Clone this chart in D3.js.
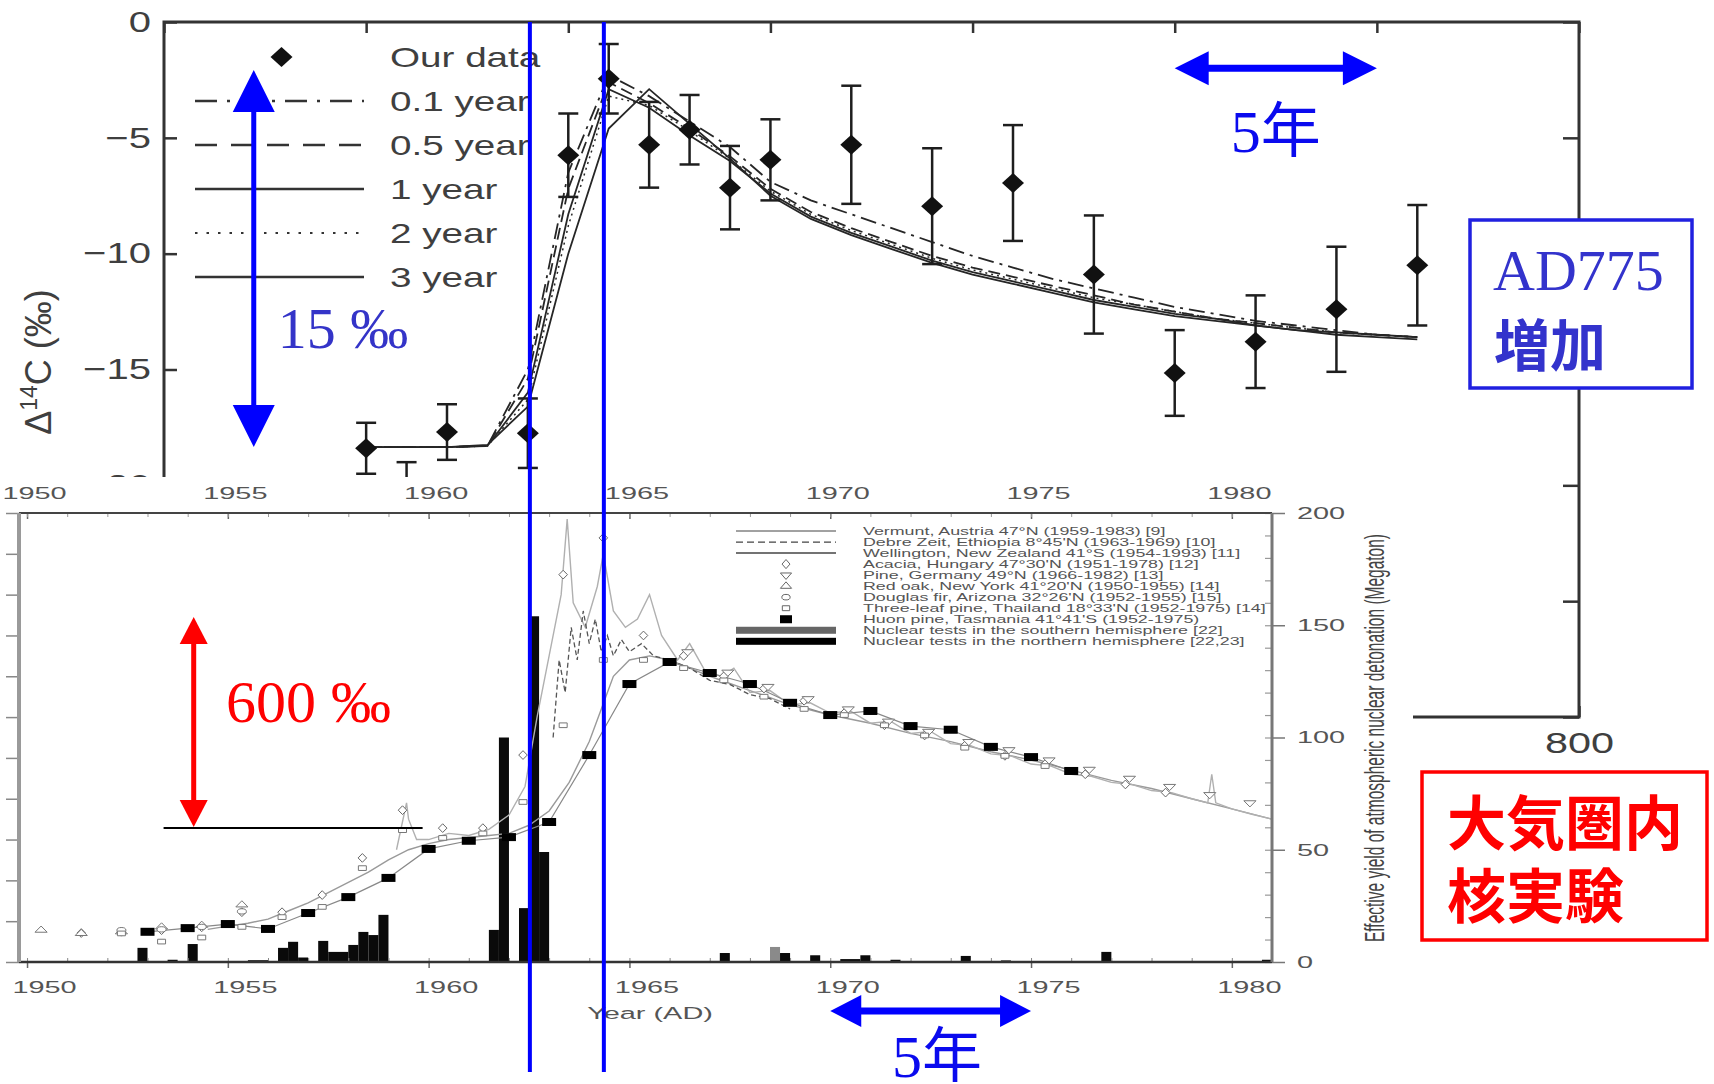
<!DOCTYPE html>
<html lang="ja">
<head>
<meta charset="UTF-8">
<title>AD775 and bomb 14C</title>
<script src="https://cdn.jsdelivr.net/npm/d3@7"></script>
<style>
  body { margin: 0; background: #fff; }
  svg { display: block; }
</style>
</head>
<body>
<div id="chart"></div>
<script>
// ---------------- top chart: AD775 tree rings ----------------
var ourYears  = [770, 771, 772, 774, 775, 776, 777, 778, 779, 780, 782, 784, 786, 788, 790, 792, 794, 796];
var ourValues = [-18.4, -20.5, -17.7, -17.75, -5.75, -2.45, -5.3, -4.65, -7.15, -5.95, -5.3, -7.95, -6.95, -10.9, -15.15, -13.8, -12.4, -10.5];
var ourErrors = [1.1, 1.5, 1.2, 1.5, 1.8, 1.5, 1.85, 1.5, 1.8, 1.75, 2.55, 2.5, 2.5, 2.55, 1.85, 2.0, 2.7, 2.6];

var modelYears = [770, 771, 772, 773, 774, 775, 776, 777, 778, 779, 780, 781, 782, 783, 784, 785, 786, 787, 788, 789, 790, 791, 792, 793, 794, 795, 796];
var model01 = [-18.35, -18.35, -18.35, -18.3, -15.0, -6.5, -2.3, -3.2, -4.3, -5.4, -6.9, -7.7, -8.3, -8.9, -9.5, -10.1, -10.6, -11.1, -11.5, -11.9, -12.3, -12.6, -12.9, -13.1, -13.3, -13.5, -13.6];
var model05 = [-18.35, -18.35, -18.35, -18.3, -15.4, -7.2, -2.6, -3.5, -4.6, -5.8, -7.2, -8.2, -8.9, -9.5, -10.1, -10.6, -11.0, -11.4, -11.8, -12.2, -12.5, -12.8, -13.0, -13.2, -13.4, -13.5, -13.6];
var model1  = [-18.35, -18.35, -18.35, -18.3, -16.0, -8.3, -2.9, -3.7, -4.9, -6.0, -7.4, -8.4, -9.1, -9.7, -10.3, -10.8, -11.2, -11.6, -12.0, -12.3, -12.6, -12.8, -13.1, -13.3, -13.4, -13.5, -13.6];
var model2  = [-18.35, -18.35, -18.35, -18.3, -16.3, -8.8, -3.2, -3.6, -4.7, -5.9, -7.3, -8.3, -9.0, -9.6, -10.2, -10.7, -11.1, -11.5, -11.9, -12.2, -12.5, -12.8, -13.0, -13.2, -13.4, -13.5, -13.6];
var model3  = [-18.35, -18.35, -18.35, -18.25, -16.6, -10.0, -4.6, -2.9, -4.4, -5.9, -7.5, -8.5, -9.2, -9.8, -10.4, -10.9, -11.3, -11.7, -12.1, -12.4, -12.7, -12.9, -13.1, -13.3, -13.5, -13.6, -13.7];
var modelLabels = ['0.1 year', '0.5 year', '1 year', '2 year', '3 year'];

var topXTicks = [765, 770, 775, 780, 785, 790, 795, 800];
var topYTicks = [0, -5, -10, -15, -20, -25, -30];

// ---------------- bottom chart: bomb 14C ----------------
var huonYears  = [1953, 1954, 1955, 1956, 1957, 1958, 1959, 1960, 1961, 1962, 1963, 1964, 1965, 1966, 1967, 1968, 1969, 1970, 1971, 1972, 1973, 1974, 1975, 1976];
var huonValues = [-26, -17, -7, -19, 20, 59, 106, 177, 197, 206, 243, 407, 581, 635, 608, 581, 535, 505, 515, 478, 469, 427, 402, 368];

var vermuntYears  = [1959.2, 1959.45, 1959.5, 1959.7, 1960.0, 1960.5, 1961.0, 1961.5, 1962.0, 1962.4, 1962.7, 1963.0, 1963.3, 1963.45, 1963.6, 1963.9, 1964.2, 1964.35, 1964.6, 1964.9, 1965.2, 1965.5, 1965.8, 1966.2, 1966.5, 1966.9, 1967.3, 1967.6, 1968.0, 1968.5, 1969.0, 1969.5, 1970.0, 1970.5, 1971.0, 1971.5, 1972.0, 1972.5, 1973.0, 1973.5, 1974.0, 1974.5, 1975.0, 1975.5, 1976.0, 1976.5, 1977.0, 1977.5, 1978.0, 1978.5, 1979.0, 1979.4, 1979.5, 1979.6, 1980.0, 1980.5, 1981.0];
var vermuntValues = [175, 290, 250, 200, 200, 215, 210, 225, 260, 330, 500, 650, 800, 985, 780, 720, 820, 900, 760, 720, 740, 800, 700, 640, 680, 610, 600, 620, 560, 565, 530, 535, 510, 515, 485, 490, 460, 465, 435, 430, 410, 405, 385, 380, 360, 355, 340, 335, 320, 315, 300, 290, 360, 290, 275, 262, 250];

var debreYears  = [1963.1, 1963.25, 1963.4, 1963.55, 1963.7, 1963.85, 1964.0, 1964.15, 1964.3, 1964.45, 1964.6, 1964.8, 1965.0, 1965.3, 1965.6, 1966.0, 1966.5, 1967.0, 1967.5, 1968.0, 1968.5, 1969.0];
var debreValues = [450, 640, 560, 720, 640, 760, 680, 740, 660, 700, 650, 690, 660, 680, 650, 640, 620, 590, 580, 555, 545, 520];

var wellingtonYears  = [1954.5, 1955, 1955.5, 1956, 1956.5, 1957, 1957.5, 1958, 1958.5, 1959, 1959.5, 1960, 1960.5, 1961, 1961.5, 1962, 1962.5, 1963, 1963.5, 1964, 1964.3, 1964.6, 1965, 1965.5, 1966, 1966.5, 1967, 1968, 1969, 1970, 1971, 1972, 1973, 1974, 1975, 1976, 1977, 1978, 1979, 1980, 1981];
var wellingtonValues = [-20, -12, -5, 5, 25, 45, 70, 95, 120, 150, 175, 190, 200, 205, 210, 215, 235, 270, 340, 440, 520, 600, 640, 650, 640, 620, 600, 565, 530, 505, 485, 460, 440, 415, 395, 370, 345, 325, 300, 275, 250];

var acaciaYears  = [1951, 1952, 1953, 1954, 1955, 1956, 1957, 1958, 1959, 1960, 1961, 1962, 1963, 1964, 1965, 1966, 1967, 1968, 1969, 1970, 1971, 1972, 1973, 1974, 1975, 1976, 1977, 1978];
var acaciaValues = [-29, -26, -22, -15, 22, 22, 64, 155, 272, 228, 228, 407, 849, 939, 700, 650, 600, 570, 540, 510, 480, 455, 430, 405, 385, 360, 335, 315];
var redOakYears  = [1950, 1951, 1952, 1953, 1954, 1955];
var redOakValues = [-22, -30, -26, -14, -10, 40];
var firYears  = [1952, 1953, 1954, 1955];
var firValues = [-22, -20, -14, 24];
var thaiYears  = [1952, 1953, 1954, 1955, 1956, 1957, 1958, 1959, 1960, 1961, 1962, 1963, 1964, 1965, 1966, 1967, 1968, 1969, 1970, 1971, 1972, 1973, 1974, 1975];
var thaiValues = [-30, -50, -40, -14, 10, 35, 130, 223, 204, 215, 292, 480, 640, 640, 620, 590, 550, 520, 505, 480, 455, 425, 405, 380];
var pineYears  = [1966, 1967, 1968, 1969, 1970, 1971, 1972, 1973, 1974, 1975, 1976, 1977, 1978, 1979, 1980];
var pineValues = [660, 610, 575, 545, 520, 490, 465, 440, 420, 395, 372, 350, 330, 310, 290];

// nuclear tests, quarter-year bins (Megaton)
var testStart = [1952.75, 1953.5, 1954.0, 1955.5, 1956.25, 1956.5, 1956.75, 1957.25, 1957.5, 1958.0, 1958.25, 1958.5, 1958.75, 1961.5, 1961.75, 1962.25, 1962.5, 1962.75, 1967.25, 1968.5, 1968.75, 1969.5, 1970.25, 1970.75, 1971.5, 1973.25, 1974.25, 1976.75, 1980.75];
var testEnd   = [1953.0, 1953.75, 1954.25, 1956.0, 1956.5, 1956.75, 1957.0, 1957.5, 1958.0, 1958.25, 1958.5, 1958.75, 1959.0, 1961.75, 1962.0, 1962.5, 1962.75, 1963.0, 1967.5, 1968.75, 1969.0, 1969.75, 1970.75, 1971.0, 1971.75, 1973.5, 1974.5, 1977.0, 1981.0];
var testYield = [6.3, 1, 8, 0.8, 6.3, 9, 2, 9.4, 4.5, 7.6, 13.4, 12, 21, 14.3, 100, 24, 154, 49, 4, 6.7, 4, 3, 1.3, 3, 1, 2.7, 0.7, 4.5, 1];
var testHemi  = ['N', 'N', 'N', 'N', 'N', 'N', 'N', 'N', 'N', 'N', 'N', 'N', 'N', 'N', 'N', 'N', 'N', 'N', 'N', 'S', 'N', 'N', 'N', 'N', 'N', 'N', 'N', 'N', 'N'];

var botYearTicks = [1950, 1955, 1960, 1965, 1970, 1975, 1980];
var yieldTicks = [0, 50, 100, 150, 200];
var legendLabels = [
  'Vermunt, Austria 47\u00b0N (1959-1983) [9]',
  'Debre Zeit, Ethiopia 8\u00b045\'N (1963-1969) [10]',
  'Wellington, New Zealand 41\u00b0S (1954-1993) [11]',
  'Acacia, Hungary 47\u00b030\'N (1951-1978) [12]',
  'Pine, Germany 49\u00b0N (1966-1982) [13]',
  'Red oak, New York 41\u00b020\'N (1950-1955) [14]',
  'Douglas fir, Arizona 32\u00b026\'N (1952-1955) [15]',
  'Three-leaf pine, Thailand 18\u00b033\'N (1952-1975) [14]',
  'Huon pine, Tasmania 41\u00b041\'S (1952-1975)',
  'Nuclear tests in the southern hemisphere [22]',
  'Nuclear tests in the northern hemisphere [22,23]'
];

// ---------------------------------------------------------------
var svg = d3.select('#chart').append('svg')
    .attr('width', 1714)
    .attr('height', 1084)
    .style('font-family', '"Liberation Sans", Arial, sans-serif');
svg.append('rect').attr('width', 1714).attr('height', 1084).attr('fill', '#fff');

var serif = '"Liberation Serif", "Times New Roman", serif';
var cjk = '"Noto Sans CJK JP", sans-serif';

// stretch axis labels horizontally (the pasted figures are widened)
function stretchAxisText(g, sx) {
    g.selectAll('text').each(function() {
        var t = d3.select(this);
        var x = +t.attr('x') || 0;
        t.attr('x', x / sx).attr('transform', 'scale(' + sx + ',1)');
    });
}
function cleanAxis(g, color, width) {
    g.attr('font-size', null).attr('font-family', null);
    g.select('.domain').remove();
    g.selectAll('line').attr('stroke', color).attr('stroke-width', width);
}

// ================= top chart =================
var xTop = d3.scaleLinear().domain([765, 800]).range([164, 1579]);
var yTop = d3.scaleLinear().domain([-30, 0]).range([717, 22]);
var ink = '#333';
var topInk = '#3f3f3f';
var topG = svg.append('g');

// labels under the pasted figure are not printed
var fmtMinus = function(d) { return d < -20 ? '' : (d < 0 ? '\u2212' + Math.abs(d) : String(d)); };
var fmtYear = function(d) { return d >= 795 ? String(d) : ''; };

var gL = topG.append('g').attr('transform', 'translate(' + xTop(765) + ',0)')
    .call(d3.axisLeft(yTop).tickValues(topYTicks).tickSize(-13).tickPadding(13).tickFormat(fmtMinus));
cleanAxis(gL, ink, 2.5);
gL.selectAll('text').attr('fill', topInk).style('font-size', '29px');
stretchAxisText(gL, 1.38);

var gR = topG.append('g').attr('transform', 'translate(' + xTop(800) + ',0)')
    .call(d3.axisRight(yTop).tickValues(topYTicks).tickSize(-16).tickFormat(''));
cleanAxis(gR, ink, 2.5);

var gT = topG.append('g').attr('transform', 'translate(0,' + yTop(0) + ')')
    .call(d3.axisTop(xTop).tickValues(topXTicks).tickSize(-11).tickFormat(''));
cleanAxis(gT, ink, 2.5);

var gB = topG.append('g').attr('transform', 'translate(0,' + yTop(-30) + ')')
    .call(d3.axisBottom(xTop).tickValues(topXTicks).tickSize(-11).tickPadding(15).tickFormat(fmtYear));
cleanAxis(gB, ink, 2.5);
gB.selectAll('text').attr('fill', topInk).style('font-size', '30px');
stretchAxisText(gB, 1.38);

topG.append('rect')
    .attr('x', xTop(765)).attr('y', yTop(0))
    .attr('width', xTop(800) - xTop(765)).attr('height', yTop(-30) - yTop(0))
    .attr('fill', 'none').attr('stroke', ink).attr('stroke-width', 3);

// y label
var yl = topG.append('text')
    .attr('transform', 'translate(51,362) rotate(-90)')
    .attr('text-anchor', 'middle')
    .attr('fill', topInk)
    .style('font-size', '36px');
yl.append('tspan').text('\u0394');
yl.append('tspan').attr('dy', -14).style('font-size', '23px').text('14');
yl.append('tspan').attr('dy', 14).text('C (\u2030)');

// model curves
var modelValues = [model01, model05, model1, model2, model3];
var modelDash = ['16,6,3,6', '12,6', null, '2,4', null];
var legendDash = ['22,10,3,10', '22,14', null, '2.5,9', null];
var lineTop = d3.line().x(function(d) { return xTop(d[0]); }).y(function(d) { return yTop(d[1]); });

modelValues.forEach(function(vals, k) {
    var pts = modelYears.map(function(y, i) { return [y, vals[i]]; });
    topG.append('path')
        .attr('d', lineTop(pts))
        .attr('fill', 'none')
        .attr('stroke', '#262626')
        .attr('stroke-width', k === 3 ? 1.5 : 1.8)
        .attr('stroke-dasharray', modelDash[k]);
});

// data with error bars
var ourData = ourYears.map(function(y, i) { return { year: y, value: ourValues[i], err: ourErrors[i] }; });
var eb = topG.append('g').selectAll('g').data(ourData).join('g');
eb.append('line')
    .attr('x1', function(d) { return xTop(d.year); }).attr('x2', function(d) { return xTop(d.year); })
    .attr('y1', function(d) { return yTop(d.value + d.err); }).attr('y2', function(d) { return yTop(d.value - d.err); })
    .attr('stroke', '#1e1e1e').attr('stroke-width', 2.5);
[1, -1].forEach(function(s) {
    eb.append('line')
        .attr('x1', function(d) { return xTop(d.year) - 10; }).attr('x2', function(d) { return xTop(d.year) + 10; })
        .attr('y1', function(d) { return yTop(d.value + s * d.err); }).attr('y2', function(d) { return yTop(d.value + s * d.err); })
        .attr('stroke', '#1e1e1e').attr('stroke-width', 2.5);
});
function diamond(cx, cy) {
    return 'M' + cx + ',' + (cy - 10) + 'L' + (cx + 11) + ',' + cy + 'L' + cx + ',' + (cy + 10) + 'L' + (cx - 11) + ',' + cy + 'Z';
}
eb.append('path')
    .attr('d', function(d) { return diamond(xTop(d.year), yTop(d.value)); })
    .attr('fill', '#111');

// legend
var legX0 = 195, legX1 = 364, legTextX = 390, legY0 = 57, legStep = 44;
var legG = topG.append('g');
legG.append('path').attr('d', diamond((legX0 + legX1) / 2 + 2, legY0)).attr('fill', '#111');
var legendNames = ['Our data'].concat(modelLabels);
legendNames.forEach(function(name, i) {
    var y = legY0 + i * legStep;
    if (i > 0) {
        legG.append('line')
            .attr('x1', legX0).attr('x2', legX1).attr('y1', y).attr('y2', y)
            .attr('stroke', '#333').attr('stroke-width', i === 4 ? 2 : 2.6)
            .attr('stroke-dasharray', legendDash[i - 1]);
    }
    legG.append('text')
        .attr('transform', 'translate(' + legTextX + ',' + (y + 10) + ') scale(1.38,1)')
        .attr('fill', topInk)
        .style('font-size', '28px')
        .text(name);
});

// ================= bottom chart (pasted over) =================
svg.append('rect').attr('x', 0).attr('y', 477).attr('width', 1413).attr('height', 607).attr('fill', '#fff');

var xBot = d3.scaleLinear().domain([1949.8, 1981]).range([19, 1272]);
var yBotL = d3.scaleLinear().domain([-100, 1000]).range([962, 513]);
var yBotR = d3.scaleLinear().domain([0, 200]).range([962, 513]);
var botG = svg.append('g');
var botInk = '#555';
var sxB = 1.7;

// bars
var tests = testStart.map(function(s, i) { return { s: s, e: testEnd[i], v: testYield[i], h: testHemi[i] }; });
botG.append('g').selectAll('rect').data(tests).join('rect')
    .attr('x', function(d) { return xBot(d.s); })
    .attr('width', function(d) { return xBot(d.e) - xBot(d.s); })
    .attr('y', function(d) { return yBotR(d.v); })
    .attr('height', function(d) { return yBotR(0) - yBotR(d.v); })
    .attr('fill', function(d) { return d.h === 'S' ? '#8a8a8a' : '#0a0a0a'; });

// lines
var lineBot = d3.line().x(function(d) { return xBot(d[0]); }).y(function(d) { return yBotL(d[1]); });
function zip(a, b) { return a.map(function(x, i) { return [x, b[i]]; }); }
botG.append('path').attr('d', lineBot(zip(wellingtonYears, wellingtonValues)))
    .attr('fill', 'none').attr('stroke', '#9a9a9a').attr('stroke-width', 1.4);
botG.append('path').attr('d', lineBot(zip(vermuntYears, vermuntValues)))
    .attr('fill', 'none').attr('stroke', '#b0b0b0').attr('stroke-width', 1.4);
botG.append('path').attr('d', lineBot(zip(debreYears, debreValues)))
    .attr('fill', 'none').attr('stroke', '#555').attr('stroke-width', 1.3).attr('stroke-dasharray', '5,3');
botG.append('path').attr('d', lineBot(zip(huonYears, huonValues)))
    .attr('fill', 'none').attr('stroke', '#888').attr('stroke-width', 1.2);

// markers (NH rings plotted mid-season)
var ringOffset = 0.35;
function drawMarkers(years, values, type, offset, fill, stroke, rot) {
    botG.append('g').selectAll('path').data(years).join('path')
        .attr('d', d3.symbol().type(type).size(22))
        .attr('transform', function(d, i) {
            return 'translate(' + xBot(d + offset) + ',' + yBotL(values[i]) + ') scale(1.7,1)' + (rot ? ' rotate(180)' : '');
        })
        .attr('fill', fill)
        .attr('stroke', stroke)
        .attr('stroke-width', 1)
        .attr('vector-effect', 'non-scaling-stroke');
}
drawMarkers(acaciaYears, acaciaValues, d3.symbolDiamond, ringOffset, '#fff', '#666', false);
drawMarkers(pineYears, pineValues, d3.symbolTriangle, ringOffset + 0.1, '#fff', '#777', true);
drawMarkers(redOakYears, redOakValues, d3.symbolTriangle, ringOffset, '#fff', '#777', false);
drawMarkers(firYears, firValues, d3.symbolCircle, ringOffset, '#fff', '#777', false);
drawMarkers(thaiYears, thaiValues, d3.symbolSquare, ringOffset, '#fff', '#777', false);
botG.append('g').selectAll('rect').data(huonYears).join('rect')
    .attr('x', function(d) { return xBot(d) - 7; })
    .attr('y', function(d, i) { return yBotL(huonValues[i]) - 4; })
    .attr('width', 14).attr('height', 8)
    .attr('fill', '#000');

// axes
var yearly = d3.range(1950, 1981);
var gbB = botG.append('g').attr('transform', 'translate(0,' + yBotL(-100) + ')')
    .call(d3.axisBottom(xBot).tickValues(botYearTicks).tickSize(6).tickPadding(13).tickFormat(d3.format('d')));
cleanAxis(gbB, '#666', 1.5);
gbB.selectAll('text').attr('fill', botInk).attr('x', 17).style('font-size', '17px');
stretchAxisText(gbB, sxB);
var gbBm = botG.append('g').attr('transform', 'translate(0,' + yBotL(-100) + ')')
    .call(d3.axisBottom(xBot).tickValues(yearly).tickSize(-4).tickFormat(''));
cleanAxis(gbBm, '#888', 1);

var gbT = botG.append('g').attr('transform', 'translate(0,' + yBotL(1000) + ')')
    .call(d3.axisTop(xBot).tickValues(botYearTicks).tickSize(-6).tickPadding(14).tickFormat(d3.format('d')));
cleanAxis(gbT, '#666', 1.5);
gbT.selectAll('text').attr('fill', botInk).attr('x', 7).style('font-size', '17px');
stretchAxisText(gbT, sxB);
var gbTm = botG.append('g').attr('transform', 'translate(0,' + yBotL(1000) + ')')
    .call(d3.axisTop(xBot).tickValues(yearly).tickSize(-4).tickFormat(''));
cleanAxis(gbTm, '#999', 1);

var gbR = botG.append('g').attr('transform', 'translate(' + xBot(1981) + ',0)')
    .call(d3.axisRight(yBotR).tickValues(yieldTicks).tickSize(13).tickPadding(12));
cleanAxis(gbR, '#777', 1.5);
gbR.selectAll('text').attr('fill', botInk).attr('x', 25).style('font-size', '17px');
stretchAxisText(gbR, sxB);
var gbRm = botG.append('g').attr('transform', 'translate(' + xBot(1981) + ',0)')
    .call(d3.axisRight(yBotR).tickValues(d3.range(0, 201, 10)).tickSize(-7).tickFormat(''));
cleanAxis(gbRm, '#999', 1.2);

var gbL = botG.append('g').attr('transform', 'translate(' + xBot(1949.8) + ',0)')
    .call(d3.axisLeft(yBotL).tickValues(d3.range(-100, 1001, 100)).tickSize(13).tickFormat(''));
cleanAxis(gbL, '#888', 1.5);

// frame lines
botG.append('line').attr('x1', xBot(1949.8)).attr('x2', xBot(1981)).attr('y1', yBotL(1000)).attr('y2', yBotL(1000)).attr('stroke', '#444').attr('stroke-width', 2);
botG.append('line').attr('x1', xBot(1949.8)).attr('x2', xBot(1981)).attr('y1', yBotL(-100)).attr('y2', yBotL(-100)).attr('stroke', '#333').attr('stroke-width', 2.5);
botG.append('line').attr('x1', xBot(1949.8)).attr('x2', xBot(1949.8)).attr('y1', yBotL(1000)).attr('y2', yBotL(-100)).attr('stroke', '#9a9a9a').attr('stroke-width', 4);
botG.append('line').attr('x1', xBot(1981)).attr('x2', xBot(1981)).attr('y1', yBotL(1000)).attr('y2', yBotL(-100)).attr('stroke', '#777').attr('stroke-width', 3);

botG.append('text')
    .attr('transform', 'translate(650,1019) scale(' + sxB + ',1)')
    .attr('text-anchor', 'middle').attr('fill', botInk).style('font-size', '17px')
    .text('Year (AD)');
botG.append('text')
    .attr('transform', 'translate(1384,738) scale(1.8,1) rotate(-90)')
    .attr('text-anchor', 'middle').attr('fill', '#444').style('font-size', '15px')
    .attr('textLength', 408).attr('lengthAdjust', 'spacingAndGlyphs')
    .text('Effective yield of atmospheric nuclear detonation (Megaton)');

// bottom legend
var bl = botG.append('g');
var blY0 = 531, blStep = 11.03, blX0 = 736, blX1 = 836, blMid = 786, blTextX = 863;
legendLabels.forEach(function(lab, i) {
    var y = blY0 + i * blStep;
    if (i === 0 || i === 2) {
        bl.append('line').attr('x1', blX0).attr('x2', blX1).attr('y1', y).attr('y2', y).attr('stroke', '#444').attr('stroke-width', i === 2 ? 1.4 : 1);
    } else if (i === 1) {
        bl.append('line').attr('x1', blX0).attr('x2', blX1).attr('y1', y).attr('y2', y).attr('stroke', '#444').attr('stroke-width', 1.2).attr('stroke-dasharray', '7,4');
    } else if (i >= 3 && i <= 7) {
        var types = [d3.symbolDiamond, d3.symbolTriangle, d3.symbolTriangle, d3.symbolCircle, d3.symbolSquare];
        bl.append('path').attr('d', d3.symbol().type(types[i - 3]).size(24))
            .attr('transform', 'translate(' + blMid + ',' + y + ') scale(1.5,1)' + (i === 4 ? ' rotate(180)' : ''))
            .attr('fill', '#fff').attr('stroke', '#666').attr('stroke-width', 1).attr('vector-effect', 'non-scaling-stroke');
    } else if (i === 8) {
        bl.append('rect').attr('x', blMid - 6).attr('y', y - 4).attr('width', 12).attr('height', 8).attr('fill', '#000');
    } else {
        bl.append('rect').attr('x', blX0).attr('y', y - 3.5).attr('width', blX1 - blX0).attr('height', 7)
            .attr('fill', i === 9 ? '#666' : '#000');
    }
    bl.append('text')
        .attr('transform', 'translate(' + blTextX + ',' + (y + 3.8) + ') scale(' + sxB + ',1)')
        .attr('fill', '#555').style('font-size', '10.5px')
        .attr('textLength', 220).attr('lengthAdjust', 'spacingAndGlyphs')
        .attr('textLength', null)
        .text(lab);
});

// ================= annotations =================
var ann = svg.append('g');
function arrow(x1, y1, x2, y2, color, w, hl, hw) {
    var dx = x2 - x1, dy = y2 - y1, len = Math.sqrt(dx * dx + dy * dy);
    var ux = dx / len, uy = dy / len, px = -uy, py = ux;
    ann.append('line')
        .attr('x1', x1 + ux * hl * 0.9).attr('y1', y1 + uy * hl * 0.9)
        .attr('x2', x2 - ux * hl * 0.9).attr('y2', y2 - uy * hl * 0.9)
        .attr('stroke', color).attr('stroke-width', w);
    [[x1, y1, 1], [x2, y2, -1]].forEach(function(e) {
        var bx = e[0] + e[2] * ux * hl, by = e[1] + e[2] * uy * hl;
        ann.append('path')
            .attr('d', 'M' + e[0] + ',' + e[1] + 'L' + (bx + px * hw) + ',' + (by + py * hw) + 'L' + (bx - px * hw) + ',' + (by - py * hw) + 'Z')
            .attr('fill', color);
    });
}

var blue = '#0000ff';
var markYears = [774.05, 775.88];
markYears.forEach(function(y) {
    ann.append('line').attr('x1', xTop(y)).attr('x2', xTop(y)).attr('y1', yTop(0)).attr('y2', 1072)
        .attr('stroke', blue).attr('stroke-width', 4);
});

// 15 permil
arrow(xTop(767.22), yTop(-2.07), xTop(767.22), yTop(-18.34), blue, 5, 42, 21);
ann.append('text').attr('x', xTop(767.22) + 24).attr('y', 348)
    .attr('fill', '#3434c8').style('font-family', serif).style('font-size', '58px')
    .text('15 \u2030');

// 5 years (top)
arrow(xTop(790), yTop(-2.0), xTop(795), yTop(-2.0), blue, 7, 34, 17);
var t5 = ann.append('text').attr('x', xTop(792.5)).attr('y', 152).attr('text-anchor', 'middle')
    .attr('fill', '#0a0aee').style('font-size', '60px');
t5.append('tspan').style('font-family', serif).text('5');
t5.append('tspan').style('font-family', cjk).text('\u5e74');

// AD775 box
ann.append('rect').attr('x', 1470).attr('y', 220).attr('width', 222).attr('height', 168)
    .attr('fill', '#fff').attr('stroke', '#2020e0').attr('stroke-width', 3.5);
ann.append('text').attr('x', 1493).attr('y', 290).attr('fill', '#3333cc')
    .style('font-family', serif).style('font-size', '58px').text('AD775');
ann.append('text').attr('x', 1494).attr('y', 366).attr('fill', '#3333cc')
    .style('font-family', cjk).style('font-weight', 700).style('font-size', '56px').text('\u5897\u52a0');

// 600 permil
arrow(xBot(1954.15), yBotL(745), xBot(1954.15), yBotL(231), '#ff0000', 5, 27, 14);
ann.append('line').attr('x1', xBot(1953.4)).attr('x2', xBot(1959.85)).attr('y1', yBotL(228)).attr('y2', yBotL(228))
    .attr('stroke', '#000').attr('stroke-width', 2);
ann.append('text').attr('x', 226).attr('y', 722).attr('fill', '#ff0000')
    .style('font-family', serif).style('font-size', '60px').text('600 \u2030');

// 5 years (bottom)
arrow(xBot(1970), 1011, xBot(1975), 1011, blue, 7, 31, 16);
var t5b = ann.append('text').attr('x', 937).attr('y', 1077).attr('text-anchor', 'middle')
    .attr('fill', '#0a0aee').style('font-size', '60px');
t5b.append('tspan').style('font-family', serif).text('5');
t5b.append('tspan').style('font-family', cjk).text('\u5e74');

// red box
ann.append('rect').attr('x', 1422).attr('y', 772).attr('width', 285).attr('height', 168)
    .attr('fill', '#fff').attr('stroke', '#ff0000').attr('stroke-width', 3.5);
ann.append('text').attr('x', 1447).attr('y', 845).attr('fill', '#ff0000')
    .style('font-family', cjk).style('font-weight', 700).style('font-size', '59px').text('\u5927\u6c17\u570f\u5185');
ann.append('text').attr('x', 1447).attr('y', 918).attr('fill', '#ff0000')
    .style('font-family', cjk).style('font-weight', 700).style('font-size', '59px').text('\u6838\u5b9f\u9a13');
</script>
</body>
</html>
